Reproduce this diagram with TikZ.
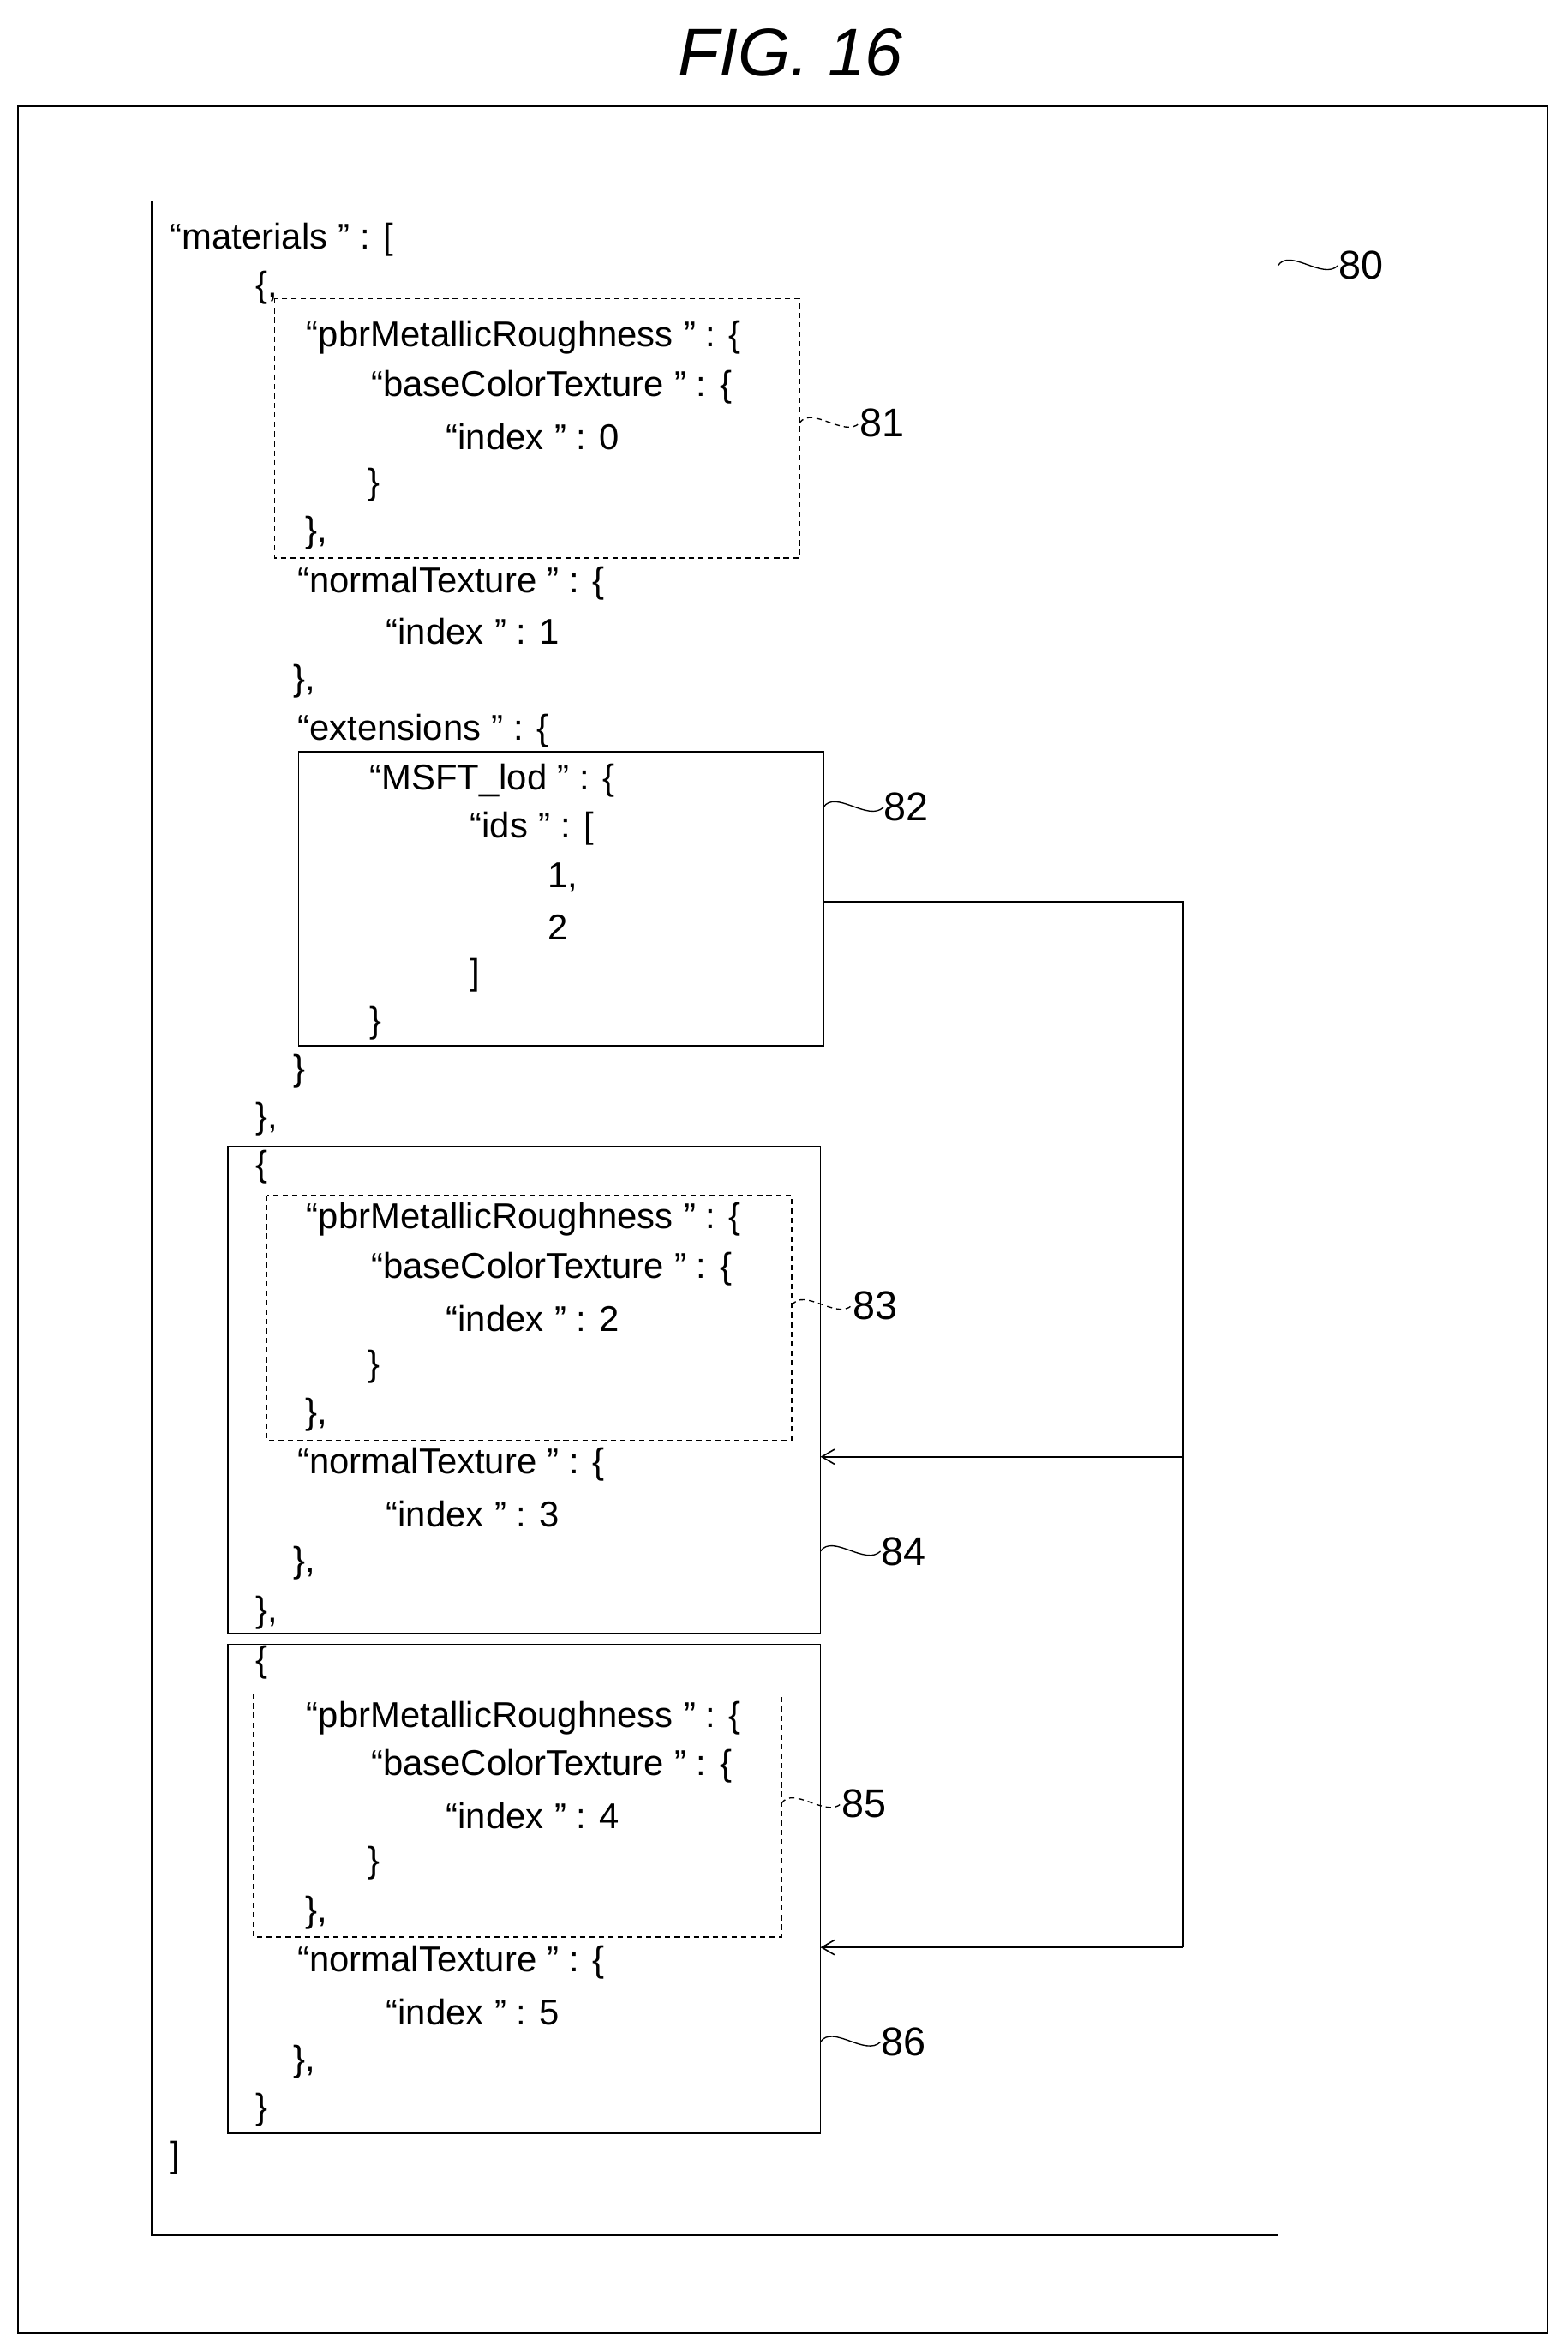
\documentclass[tikz,border=0pt]{standalone}
\usepackage{fontspec}
\setmainfont{Liberation Sans}
\usetikzlibrary{arrows.meta}
\newcommand{\cq}{\hspace{0.3em}”}
\begin{document}
\begin{tikzpicture}[x=0.05cm,y=-0.05cm,line width=1.3pt,
  t/.style={anchor=west,inner sep=0pt,font=\fontsize{34}{34}\selectfont},
  lab/.style={anchor=west,inner sep=0pt,font=\fontsize{38}{38}\selectfont},
  dbox/.style={dash pattern=on 5pt off 4pt},
  arr/.style={-{Straight Barb[length=12pt,width=14pt]}}]
\useasboundingbox (0,0) rectangle (1045,1567);
\node[font=\fontsize{64}{64}\selectfont\itshape] (title) at (527,35) {FIG. 16};
\draw (12,71) rectangle (1032,1555);
\draw (101,134) rectangle (852,1490);
\draw[dbox] (183,199) rectangle (533,372);
\draw (199,501) rectangle (549,697);
\draw (152,764) rectangle (547,1089);
\draw[dbox] (178,797) rectangle (528,960);
\draw (152,1096) rectangle (547,1422);
\draw[dbox] (169,1129) rectangle (521,1291);
% text
\foreach \x/\y/\s in {113/160/{“materials\cq{} : [},170/192/{\{,},204/225/{“pbrMetallicRoughness\cq{} : \{},247/258/{“baseColorTexture\cq{} : \{},297/291/{“index\cq{} : 0},245/323/{\}},203/355/{\},},198/389/{“normalTexture\cq{} : \{},257/421/{“index\cq{} : 1},195/454/{\},},198/487/{“extensions\cq{} : \{},246/520/{“MSFT\_lod\cq{} : \{},313/552/{“ids\cq{} : [},365/585/{1,},365/618/{2},313/650/{]},246/682/{\}},195/714/{\}},170/746/{\},},
170/778/{\{},204/813/{“pbrMetallicRoughness\cq{} : \{},247/846/{“baseColorTexture\cq{} : \{},297/879/{“index\cq{} : 2},245/911/{\}},203/943/{\},},198/976/{“normalTexture\cq{} : \{},257/1009/{“index\cq{} : 3},195/1042/{\},},170/1075/{\},},
170/1108/{\{},204/1145/{“pbrMetallicRoughness\cq{} : \{},247/1177/{“baseColorTexture\cq{} : \{},297/1210/{“index\cq{} : 4},245/1242/{\}},203/1275/{\},},198/1308/{“normalTexture\cq{} : \{},257/1341/{“index\cq{} : 5},195/1374/{\},},170/1406/{\}},113/1438/{]}}
  \node[t] at (\x,\y) {\s};
% connector
\coordinate (s) at (549,601);
\coordinate (c1) at (789,601);
\coordinate (c2) at (789,971);
\coordinate (c3) at (789,1298);
\coordinate (e1) at (547,971);
\coordinate (e2) at (547,1298);
\draw (s) -- (c1) -- (c3);
\draw[arr] (c2) -- (e1);
\draw[arr] (c3) -- (e2);
% labels
\foreach \n/\x/\y/\st in {80/852/177/solid,81/533/282/dbox,82/549/538/solid,83/528/870/dbox,84/547/1034/solid,85/521/1202/dbox,86/547/1361/solid}{
  \node[lab] (L\n) at (\x+40,\y) {\n};
  \coordinate (A\n) at (\x,\y);
  \draw[\st,line width=1.1pt] (A\n) .. controls ++(8,-12) and ++(-10,10) .. (L\n.west);
}
\end{tikzpicture}
\end{document}
